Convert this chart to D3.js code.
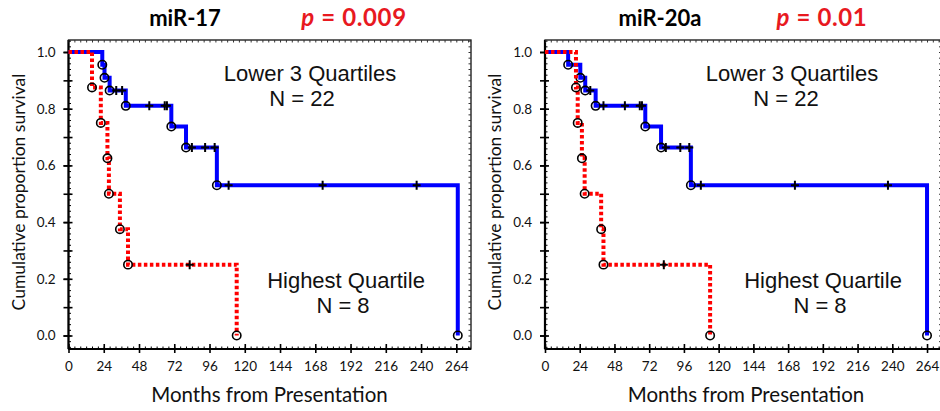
<!DOCTYPE html>
<html>
<head>
<meta charset="utf-8">
<script src="https://cdn.jsdelivr.net/npm/d3@7"></script>
<style>
  body { margin: 0; background: #fff; }
  svg { display: block; }
  .tick text { font-family: Lato, sans-serif; font-size: 13.5px; fill: #111; }
  .domain { display: none; }
</style>
</head>
<body>
<script>
// ---- data ----
// miR-17
const deathT17Low  = [23, 24.5, 28, 39, 70, 80, 101, 265];
const surv17Low    = [0.955, 0.909, 0.864, 0.81, 0.737, 0.663, 0.53, 0];
const censorT17Low = [32.5, 36.5, 55, 65.5, 67, 84, 93, 99.5, 109, 173, 237];
const deathT17High  = [16, 22, 26.5, 27.5, 35, 40.5, 114.5];
const surv17High    = [0.875, 0.75, 0.625, 0.5, 0.375, 0.25, 0];
const censorT17High = [82.5];
// miR-20a
const deathT20Low  = [16, 24.4, 27.8, 35, 69.3, 80.2, 100.8, 264];
const surv20Low    = [0.955, 0.909, 0.864, 0.81, 0.737, 0.663, 0.53, 0];
const censorT20Low = [31.3, 40.4, 55.2, 65.5, 67, 83.5, 93.5, 99.7, 107.7, 172.7, 237];
const deathT20High  = [21.4, 22.6, 25.5, 27.4, 38.8, 40.4, 114.1];
const surv20High    = [0.875, 0.75, 0.625, 0.5, 0.375, 0.25, 0];
const censorT20High = [82.1];

const xTicks = [0, 24, 48, 72, 96, 120, 144, 168, 192, 216, 240, 264];
const yTicks = [0, 0.2, 0.4, 0.6, 0.8, 1.0];

const panels = [
  {title: "miR-17", p: "0.009", left: 68.5, pw: 402.5, titleX: 185, pX: 354,
   low: [deathT17Low, surv17Low, censorT17Low], high: [deathT17High, surv17High, censorT17High],
   lowLab: [310, 302], highLab: [346, 343]},
  {title: "miR-20a", p: "0.01", left: 545, pw: 396.5, titleX: 660, pX: 822,
   low: [deathT20Low, surv20Low, censorT20Low], high: [deathT20High, surv20High, censorT20High],
   lowLab: [792, 786], highLab: [823, 820]}
];

const W = 940, H = 411;
const plotTop = 40, plotBottom = 349;

const svg = d3.select("body").append("svg")
  .attr("width", W).attr("height", H);

panels.forEach(pn => {
  const pw = pn.pw;
  const x = d3.scaleLinear().domain([0, 274]).range([pn.left, pn.left + pw]);
  const y = d3.scaleLinear().domain([0, 1]).range([335.5, 52]);
  const g = svg.append("g");

  // frame
  g.append("rect")
    .attr("x", pn.left).attr("y", plotTop)
    .attr("width", pw).attr("height", plotBottom - plotTop)
    .attr("fill", "none").attr("stroke", "#111").attr("stroke-width", 1.3);
  g.append("line").attr("x1", pn.left).attr("x2", pn.left).attr("y1", plotTop).attr("y2", plotBottom)
    .attr("stroke", "#000").attr("stroke-width", 2.2);
  g.append("line").attr("x1", pn.left).attr("x2", pn.left + pw).attr("y1", plotBottom).attr("y2", plotBottom)
    .attr("stroke", "#000").attr("stroke-width", 2.2);

  const minorX = d3.range(0, 275, 4);
  const minorY = d3.range(-0.04, 1.041, 0.02);

  // bottom axis: labels + crossing major ticks + minor ticks
  g.append("g").attr("transform", `translate(0,${plotBottom})`)
    .call(d3.axisBottom(x).tickValues(xTicks).tickSize(4).tickPadding(8))
    .call(a => a.selectAll("line").attr("stroke", "#000").attr("stroke-width", 1.6));
  g.append("g").attr("transform", `translate(0,${plotBottom})`)
    .call(d3.axisTop(x).tickValues(xTicks).tickSize(5).tickFormat(""))
    .call(a => a.selectAll("line").attr("stroke", "#000").attr("stroke-width", 1.6));
  g.append("g").attr("transform", `translate(0,${plotBottom})`)
    .call(d3.axisTop(x).tickValues(minorX).tickSize(2.5).tickFormat(""))
    .call(a => a.selectAll("line").attr("stroke", "#000").attr("stroke-width", 1));
  // top frame ticks
  g.append("g").attr("transform", `translate(0,${plotTop})`)
    .call(d3.axisBottom(x).tickValues(minorX).tickSize(2.5).tickFormat(""))
    .call(a => a.selectAll("line").attr("stroke", "#333").attr("stroke-width", 1));

  // left axis
  g.append("g").attr("transform", `translate(${pn.left},0)`)
    .call(d3.axisLeft(y).tickValues(yTicks).tickSize(5).tickPadding(8).tickFormat(d3.format(".1f")))
    .call(a => a.selectAll("line").attr("stroke", "#000").attr("stroke-width", 1.6));
  g.append("g").attr("transform", `translate(${pn.left},0)`)
    .call(d3.axisLeft(y).tickValues(d3.range(0, 1.01, 0.1)).tickSize(5).tickFormat(""))
    .call(a => a.selectAll("line").attr("stroke", "#000").attr("stroke-width", 1.6));
  g.append("g").attr("transform", `translate(${pn.left},0)`)
    .call(d3.axisRight(y).tickValues(d3.range(0, 1.01, 0.1)).tickSize(4).tickFormat(""))
    .call(a => a.selectAll("line").attr("stroke", "#000").attr("stroke-width", 1.6));
  g.append("g").attr("transform", `translate(${pn.left},0)`)
    .call(d3.axisRight(y).tickValues(minorY).tickSize(2.5).tickFormat(""))
    .call(a => a.selectAll("line").attr("stroke", "#000").attr("stroke-width", 1));
  // right frame ticks
  g.append("g").attr("transform", `translate(${pn.left + pw},0)`)
    .call(d3.axisLeft(y).tickValues(minorY).tickSize(2.5).tickFormat(""))
    .call(a => a.selectAll("line").attr("stroke", "#333").attr("stroke-width", 1));

  // axis titles
  g.append("text")
    .attr("transform", `translate(${pn.left - 50},192) rotate(-90)`)
    .attr("text-anchor", "middle").attr("dy", "0.35em")
    .style("font-family", "Lato, sans-serif").style("font-size", "17.5px").attr("fill", "#111")
    .text("Cumulative proportion survival");
  g.append("text")
    .attr("x", pn.left + 201).attr("y", 402)
    .attr("text-anchor", "middle")
    .style("font-family", "Lato, sans-serif").style("font-size", "20.5px").attr("fill", "#111")
    .text("Months from Presentation");

  // titles
  g.append("text").attr("x", pn.titleX).attr("y", 26).attr("text-anchor", "middle")
    .style("font-family", "Lato, sans-serif").style("font-size", "22px").style("font-weight", "bold")
    .attr("fill", "#000").text(pn.title);
  const pt = g.append("text").attr("x", pn.pX).attr("y", 26).attr("text-anchor", "middle")
    .style("font-family", "Lato, sans-serif").style("font-size", "24px").style("font-weight", "bold")
    .style("letter-spacing", "0.6px")
    .attr("fill", "#e8191f");
  pt.append("tspan").style("font-style", "italic").text("p");
  pt.append("tspan").text(" = " + pn.p);

  // group labels
  const lab = (txt, cx, cy) => g.append("text").attr("x", cx).attr("y", cy)
    .attr("text-anchor", "middle").attr("dy", "0.35em")
    .style("font-family", "'Liberation Sans', Arial, sans-serif").style("font-size", "22px")
    .attr("fill", "#111").text(txt);
  lab("Lower 3 Quartiles", pn.lowLab[0], 73);
  lab("N = 22", pn.lowLab[1], 98);
  lab("Highest Quartile", pn.highLab[0], 280);
  lab("N = 8", pn.highLab[1], 305);

  // survival curves
  const line = d3.line().x(d => x(d[0])).y(d => y(d[1])).curve(d3.curveStepAfter);
  const survAt = (ts, ss, t) => {
    let s = 1;
    ts.forEach((d, i) => { if (d <= t) s = ss[i]; });
    return s;
  };
  const drawSeries = (ser, color, dashed) => {
    const [ts, ss, cs] = ser;
    const pts = [[0, 1]].concat(ts.map((t, i) => [t, ss[i]]));
    g.append("path").datum(pts)
      .attr("d", line)
      .attr("fill", "none").attr("stroke", color).attr("stroke-width", 4)
      .attr("stroke-dasharray", dashed ? "3.5,2.5" : null);
    g.selectAll(null).data(cs).enter().append("path")
      .attr("transform", t => `translate(${x(t)},${y(survAt(ts, ss, t))})`)
      .attr("d", "M-4,0H4M0,-4.5V4.5")
      .attr("stroke", "#000").attr("stroke-width", 2);
    g.selectAll(null).data(ts).enter().append("circle")
      .attr("cx", t => x(t)).attr("cy", (t, i) => y(ss[i]))
      .attr("r", 4.2)
      .attr("fill", "none").attr("stroke", "#000").attr("stroke-width", 1.6);
  };
  drawSeries(pn.low, "#0000ff", false);
  drawSeries(pn.high, "#ff0000", true);
});
</script>
</body>
</html>
